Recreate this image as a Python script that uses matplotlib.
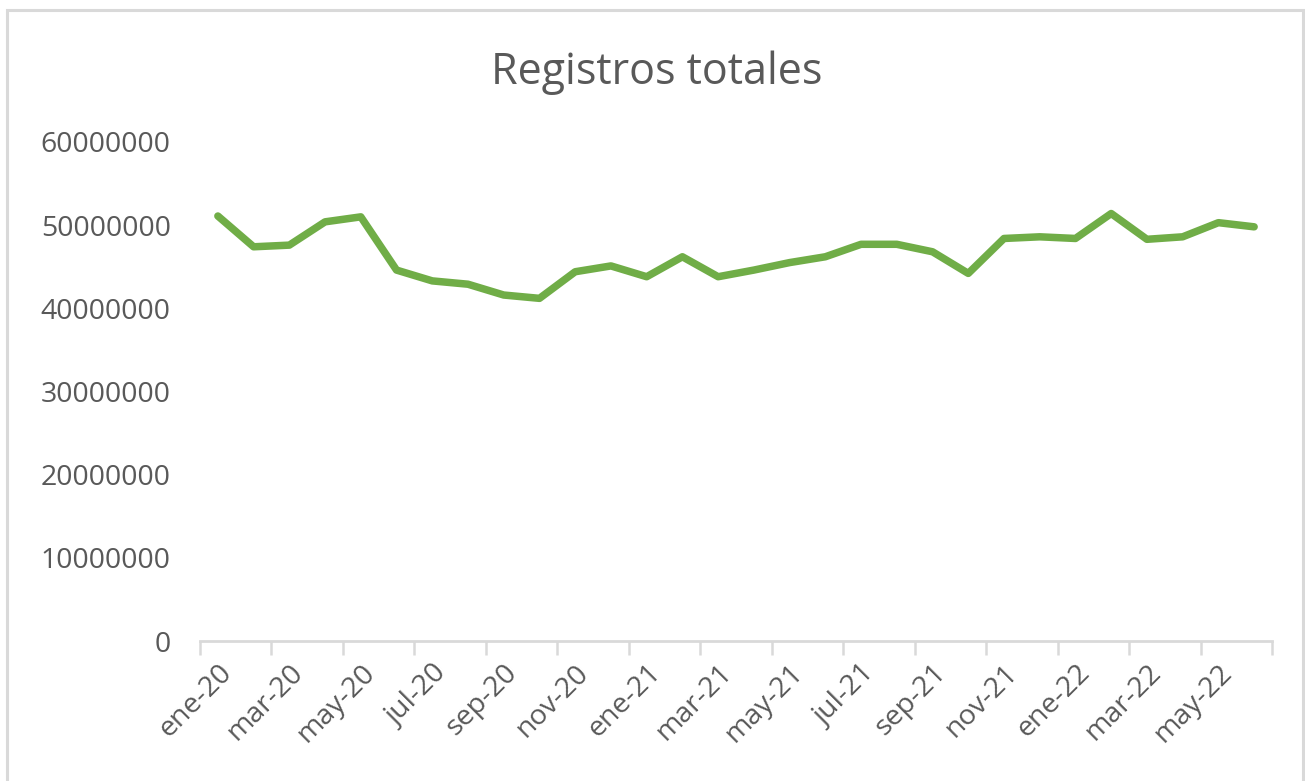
import matplotlib
matplotlib.use("Agg")
import matplotlib.pyplot as plt
from matplotlib.patches import Rectangle

plt.rcParams['font.family'] = ['Open Sans', 'DejaVu Sans']

months = ['ene-20', 'feb-20', 'mar-20', 'abr-20', 'may-20', 'jun-20',
          'jul-20', 'ago-20', 'sep-20', 'oct-20', 'nov-20', 'dic-20',
          'ene-21', 'feb-21', 'mar-21', 'abr-21', 'may-21', 'jun-21',
          'jul-21', 'ago-21', 'sep-21', 'oct-21', 'nov-21', 'dic-21',
          'ene-22', 'feb-22', 'mar-22', 'abr-22', 'may-22', 'jun-22']
registros = [51100000, 47400000, 47600000, 50400000, 51000000, 44600000,
             43300000, 42900000, 41600000, 41200000, 44400000, 45100000,
             43800000, 46200000, 43800000, 44600000, 45500000, 46200000,
             47700000, 47700000, 46800000, 44200000, 48400000, 48600000,
             48400000, 51400000, 48300000, 48600000, 50300000, 49800000]

grey = '#595959'
W, H = 1305, 781
fig = plt.figure(figsize=(W / 100, H / 100), dpi=100)

# light frame round the chart area
fig.patches.append(Rectangle((7 / W, -0.05), 1296 / W, 1 - 10 / H + 0.05,
                             transform=fig.transFigure, fill=False,
                             edgecolor='#d9d9d9', linewidth=2.2))

ax = fig.add_axes([200 / W, 1 - 641 / H, 1072 / W, 499 / H])
x = list(range(len(months)))
ax.plot(x, registros, color='#70AD47', linewidth=5.4,
        solid_capstyle='round', solid_joinstyle='round')

ax.set_xlim(-0.5, len(months) - 0.5)
ax.set_ylim(0, 60000000)
ax.set_yticks(range(0, 60000001, 10000000))
ax.set_yticklabels([str(v) for v in range(0, 60000001, 10000000)])

# tick marks between every second month, labels on the months themselves
ax.set_xticks([i - 0.5 for i in range(0, len(months) + 1, 2)])
ax.set_xticklabels([])
ax.set_xticks(x[::2], minor=True)
ax.set_xticklabels(months[::2], minor=True, rotation=45, ha='right',
                   rotation_mode='anchor')
ax.tick_params(axis='x', which='major', length=10, width=1.8,
               color='#d9d9d9', direction='out')
ax.tick_params(axis='x', which='minor', length=0, pad=13,
               labelsize=20.5, labelcolor=grey)
ax.tick_params(axis='y', length=0, pad=21, labelsize=20.5, labelcolor=grey)

for side in ['left', 'right', 'top']:
    ax.spines[side].set_visible(False)
ax.spines['bottom'].set_color('#d9d9d9')
ax.spines['bottom'].set_linewidth(2)

fig.text(657 / W, 1 - 73 / H, 'Registros totales', ha='center', va='center',
         fontsize=31, color=grey)

fig.savefig('out.png', dpi=100)
